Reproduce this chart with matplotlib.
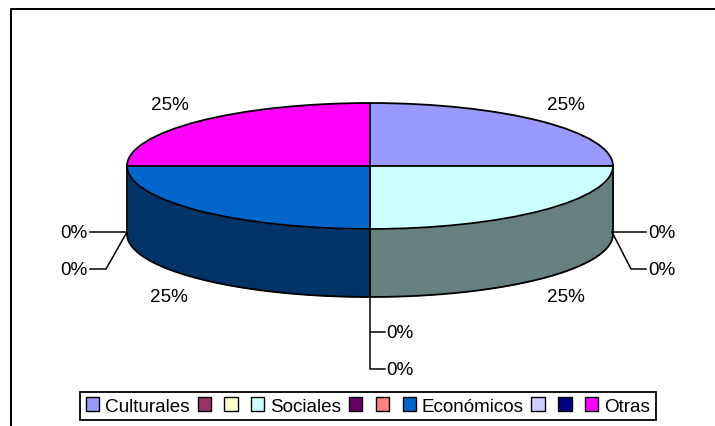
import numpy as np
import matplotlib
matplotlib.use("Agg")
import matplotlib.pyplot as plt
from matplotlib.patches import Patch

plt.rcParams["font.family"] = ["Liberation Sans", "DejaVu Sans"]

categories = ["Culturales", "", "", "Sociales", "", "", "Económicos", "", "", "Otras"]
values = [25, 0, 0, 25, 0, 0, 25, 0, 0, 25]
colors = ["#9999FF", "#993366", "#FFFFCC", "#CCFFFF", "#660066",
          "#FF8080", "#0066CC", "#CCCCFF", "#000080", "#FF00FF"]
side_colors = ["#4C4C80", "#4C1A33", "#808066", "#668080", "#330033",
               "#804040", "#003366", "#666680", "#000040", "#800080"]

WIDTH, HEIGHT = 715, 427
CX, CY, RX, RY, DEPTH = 370, 167, 243, 63, 68


def px(x, y):
    # image pixels to pie units
    return (x - CX) / RX, (CY - y) / RY


fig = plt.figure(figsize=(WIDTH / 100, HEIGHT / 100), dpi=100)
ax = fig.add_axes([0, 0, 1, 1])
wedges, _ = ax.pie(values, colors=colors, startangle=90, counterclock=False,
                   radius=1, wedgeprops={"edgecolor": "black", "linewidth": 1.3, "zorder": 3})
ax.set_aspect("auto")
ax.set_xlim(px(0, 0)[0], px(WIDTH, 0)[0])
ax.set_ylim(px(0, HEIGHT)[1], px(0, 0)[1])

# side of the cake, from the front part of every slice
depth = DEPTH / RY
for wedge, side in zip(wedges, side_colors):
    if wedge.theta2 - wedge.theta1 <= 0:
        continue
    t = np.radians(np.linspace(wedge.theta1, wedge.theta2, 200))
    t = t[np.sin(t) <= 1e-9]
    if len(t) < 2:
        continue
    x, y = np.cos(t), np.sin(t)
    ax.fill_between(x, y, y - depth, color=side, linewidth=0, zorder=1)
    ax.plot(x, y - depth, color="black", lw=1.3, zorder=2)
    for i in [0, -1]:
        ax.plot([x[i], x[i]], [y[i], y[i] - depth], color="black", lw=1.3, zorder=2)

# value labels
big_labels = [(566, 106), (566, 297), (169, 297), (170, 106)]
for val, (lx, ly) in zip([v for v in values if v > 0], big_labels):
    ax.text(*px(lx, ly), "%d%%" % val, fontsize=13.6, ha="center", va="center")

zero_labels = [(662, 234), (662, 271), (400, 334), (400, 371), (74, 234), (74, 271)]
for val, (lx, ly) in zip([v for v in values if v == 0], zero_labels):
    ax.text(*px(lx, ly), "%d%%" % val, fontsize=13.6, ha="center", va="center")

leaders = [
    [(612, 233), (646, 233)],
    [(612, 233), (631, 270), (646, 270)],
    [(370, 297), (370, 370), (385, 370)],
    [(370, 333), (385, 333)],
    [(127, 233), (90, 233)],
    [(127, 233), (106, 270), (90, 270)],
]
for pts in leaders:
    xy = np.array([px(*p) for p in pts])
    ax.plot(xy[:, 0], xy[:, 1], color="black", lw=1.1, zorder=2)

# chart border, only top and left show in the crop
fig.add_artist(plt.Line2D([11 / WIDTH, 11 / WIDTH, 1], [0, 1 - 10 / HEIGHT, 1 - 10 / HEIGHT],
                          color="black", lw=1.4))

handles = [Patch(facecolor=c, edgecolor="black", linewidth=1) for c in colors]
leg = fig.legend(handles, categories, ncol=len(categories), loc="center",
                 bbox_to_anchor=(368 / WIDTH, 1 - 407 / HEIGHT), fontsize=13.6,
                 frameon=True, fancybox=False, framealpha=1, edgecolor="black",
                 handlelength=0.7, handleheight=0.7, handletextpad=0.3,
                 columnspacing=0.42, borderpad=0.3, borderaxespad=0)
leg.get_frame().set_linewidth(1.3)

fig.savefig("out.png", dpi=100)
